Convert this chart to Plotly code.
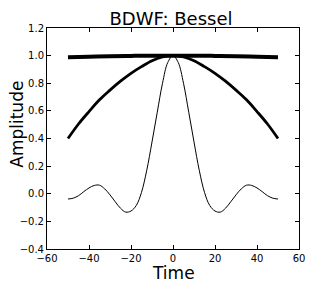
import plotly.graph_objects as go

# Time samples and amplitudes
t_thin = [-50, -47.5, -45, -42.5, -40, -37.5, -35, -32.5, -30, -27.5, -25, -22.5, -20, -17.5, -15, -12.5, -10, -7.5, -5, -2.5,
          0, 2.5, 5, 7.5, 10, 12.5, 15, 17.5, 20, 22.5, 25, 27.5, 30, 32.5, 35, 37.5, 40, 42.5, 45, 47.5, 50]
amp_thin = [-0.038, -0.032, -0.014, 0.015, 0.042, 0.060, 0.062, 0.035, -0.008, -0.058, -0.105, -0.133, -0.125, -0.085, 0.010, 0.170, 0.375, 0.590, 0.800, 0.950,
            1.000, 0.950, 0.800, 0.590, 0.375, 0.170, 0.010, -0.085, -0.125, -0.133, -0.105, -0.058, -0.008, 0.035, 0.062, 0.060, 0.042, 0.015, -0.014, -0.032, -0.038]

t_mid = [-50, -45, -40, -35, -30, -25, -20, -15, -10, -5, 0, 5, 10, 15, 20, 25, 30, 35, 40, 45, 50]
amp_mid = [0.400, 0.505, 0.595, 0.680, 0.750, 0.815, 0.872, 0.920, 0.963, 0.990, 1.000,
           0.990, 0.963, 0.920, 0.872, 0.815, 0.750, 0.680, 0.595, 0.505, 0.400]

t_flat = [-50, -40, -30, -20, -10, 0, 10, 20, 30, 40, 50]
amp_flat = [0.988, 0.992, 0.996, 0.998, 0.9995, 1.000, 0.9995, 0.998, 0.996, 0.992, 0.988]

x_ticks = [-60, -40, -20, 0, 20, 40, 60]
y_ticks = [-0.4, -0.2, 0.0, 0.2, 0.4, 0.6, 0.8, 1.0, 1.2]

fig = go.Figure()
fig.add_trace(go.Scatter(x=t_flat, y=amp_flat, mode="lines", line=dict(color="black", width=4, shape="spline")))
fig.add_trace(go.Scatter(x=t_mid, y=amp_mid, mode="lines", line=dict(color="black", width=2.8, shape="spline")))
fig.add_trace(go.Scatter(x=t_thin, y=amp_thin, mode="lines", line=dict(color="black", width=1, shape="spline")))

axis_common = dict(ticks="inside", ticklen=4, tickcolor="black", showline=True, linecolor="black", linewidth=1,
                   mirror="ticks", showgrid=False, zeroline=False, tickfont=dict(size=10, color="black"))
fig.update_xaxes(range=[-60, 60], tickvals=x_ticks, **axis_common)
fig.update_yaxes(range=[-0.4, 1.2], tickvals=y_ticks, tickformat=".1f", **axis_common)

# The page body has an 8px margin, so the figure is sized/placed to compensate.
W, H = 324, 277
fig.update_layout(
    width=W, height=H,
    margin=dict(l=33, r=33, t=20, b=36),
    plot_bgcolor="white", paper_bgcolor="white",
    showlegend=False,
    font=dict(family="DejaVu Sans", color="black"),
    title=dict(text="BDWF: Bessel", font=dict(size=18, color="black"), x=(171 - 8) / W, xanchor="center",
               yref="container", y=1 - 11 / H, yanchor="middle"),
    annotations=[
        dict(text="Time", xref="paper", yref="paper", x=0.5, y=-(273 - 249) / 221, xanchor="center", yanchor="middle",
             showarrow=False, font=dict(size=17, color="black")),
        dict(text="Amplitude", xref="paper", yref="paper", x=(10 - 41) / 258, y=(249 - 124) / 221, xanchor="center",
             yanchor="middle", textangle=-90, showarrow=False, font=dict(size=17, color="black")),
    ],
)

fig.write_html("out.html")
